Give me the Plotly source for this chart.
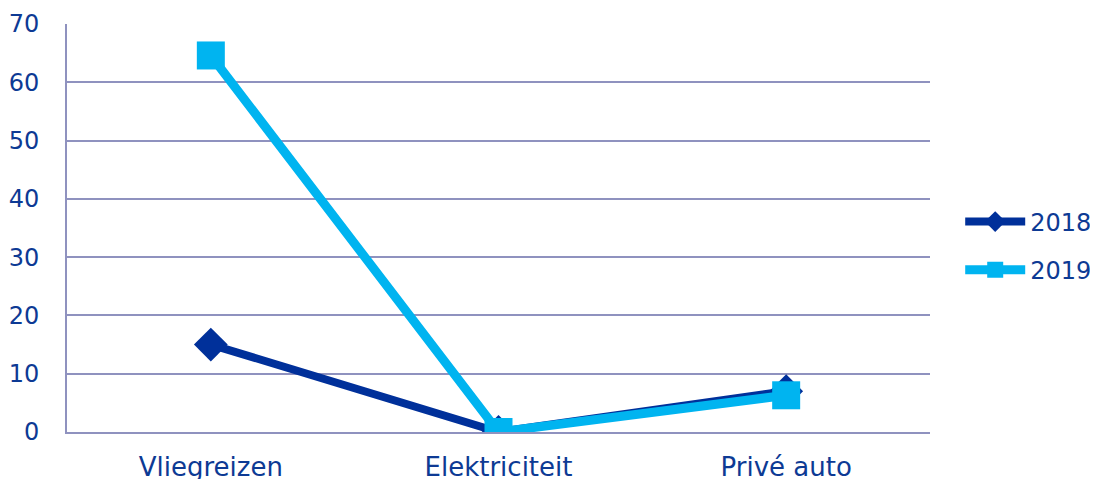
import plotly.graph_objects as go

categories = ["Vliegreizen", "Elektriciteit", "Privé auto"]
values_2018 = [15, 0, 7]
values_2019 = [64.6, 0, 6.3]
y_ticks = [0, 10, 20, 30, 40, 50, 60, 70]

font_color = "#0D3A94"
grid_color = "#8F92BF"

fig = go.Figure()
fig.add_trace(go.Scatter(
    x=categories, y=values_2018, name="2018", mode="lines+markers",
    legendgroup="a",
    line=dict(color="#00309A", width=8),
    marker=dict(symbol="diamond", size=26, color="#00309A"),
))
fig.add_trace(go.Scatter(
    x=categories, y=values_2019, name="2019", mode="lines+markers",
    legendgroup="b",
    line=dict(color="#00B4F0", width=9),
    marker=dict(symbol="square", size=28, color="#00B4F0"),
))

fig.update_layout(
    width=1090, height=471,
    margin=dict(l=59, r=168, t=16, b=47, autoexpand=False),
    paper_bgcolor="white", plot_bgcolor="white",
    font=dict(family="DejaVu Sans", size=25, color=font_color),
    showlegend=True,
    legend=dict(x=1.035, y=0.456, xanchor="left", yanchor="middle",
                font=dict(size=24, color=font_color), itemwidth=60,
                traceorder="grouped", tracegroupgap=14),
    xaxis=dict(range=[-0.5, 2.5], showgrid=False, showline=True,
               linecolor=grid_color, linewidth=2, ticks="",
               ticklabelstandoff=11, automargin=False,
               tickfont=dict(size=26)),
    yaxis=dict(range=[0, 70], tickvals=y_ticks, showgrid=True,
               gridcolor=grid_color, gridwidth=1.5, showline=True,
               linecolor=grid_color, linewidth=2, zeroline=False,
               ticks="", ticklabelstandoff=21, automargin=False,
               tickfont=dict(size=24)),
)

fig.write_html("out.html")
